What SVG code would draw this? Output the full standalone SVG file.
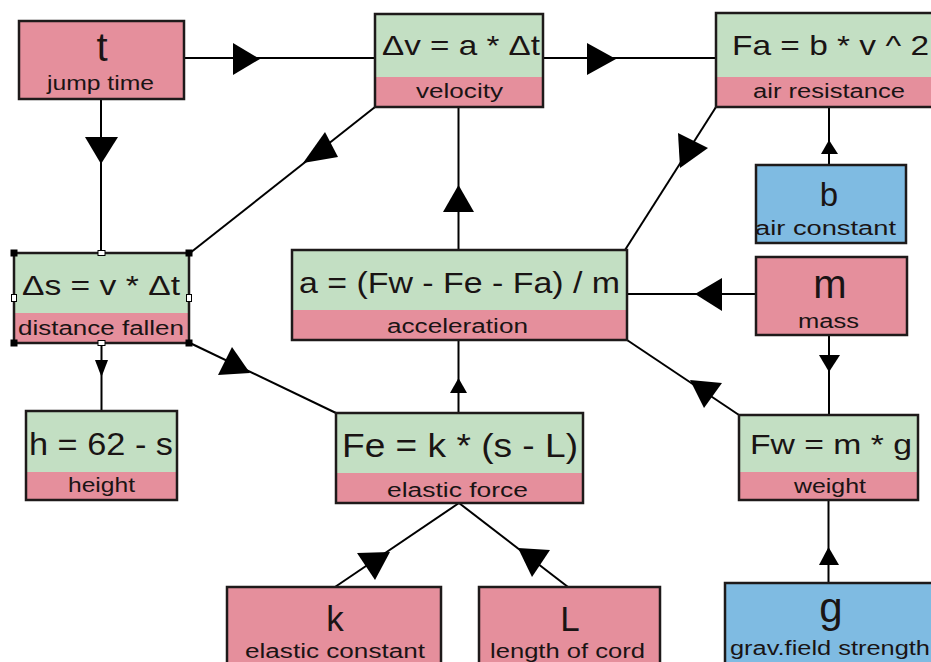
<svg xmlns="http://www.w3.org/2000/svg" width="931" height="662" viewBox="0 0 931 662">
<style>
.bx{fill:none;stroke:#1e1a1a;stroke-width:2.5}
.pk{fill:#e58f9c}
.gr{fill:#c3dfc3}
.bl{fill:#7fbbe2}
.ln{stroke:#000;stroke-width:2;fill:none}
.ah{fill:#000}
text{font-family:"Liberation Sans",Arial,sans-serif;fill:#1a1414}
.f{font-size:28px}
.s{font-size:20px}
.v{text-anchor:middle}
.hb{fill:#000}
.hw{fill:#fff;stroke:#000;stroke-width:1}
</style>
<rect width="931" height="662" fill="#fff"/>
<g id="connectors">
<line class="ln" x1="184" y1="58" x2="375" y2="58"/>
<polygon class="ah" points="233,43 233,75 260,59"/>
<line class="ln" x1="101" y1="99" x2="101" y2="253"/>
<polygon class="ah" points="85,137 118,137 101,164"/>
<line class="ln" x1="375" y1="107" x2="190" y2="253"/>
<polygon class="ah" points="325,132 338,157 303,163"/>
<line class="ln" x1="543" y1="58" x2="716" y2="58"/>
<polygon class="ah" points="587,43 587,75 616,59"/>
<line class="ln" x1="458.5" y1="250" x2="458.5" y2="107"/>
<polygon class="ah" points="443,212 474,212 458.5,185"/>
<line class="ln" x1="716" y1="107" x2="625" y2="250"/>
<polygon class="ah" points="678,133 708,148 680,168"/>
<line class="ln" x1="829" y1="165" x2="829" y2="107"/>
<polygon class="ah" points="821,154 838,154 829,140"/>
<line class="ln" x1="756" y1="294" x2="627" y2="294"/>
<polygon class="ah" points="722,278 722,311 695,294"/>
<line class="ln" x1="829" y1="335" x2="829" y2="415"/>
<polygon class="ah" points="819,355 840,355 829,372"/>
<line class="ln" x1="739" y1="415" x2="627" y2="340"/>
<polygon class="ah" points="690,380 722,383 704,408"/>
<line class="ln" x1="101.5" y1="343" x2="101.5" y2="411"/>
<polygon class="ah" points="95,360 108,360 101.5,377"/>
<line class="ln" x1="190" y1="343" x2="336" y2="413"/>
<polygon class="ah" points="232,347 218,375 250,373"/>
<line class="ln" x1="458.5" y1="413" x2="458.5" y2="340"/>
<polygon class="ah" points="458.5,378 450,393 467,393"/>
<line class="ln" x1="335" y1="587" x2="459" y2="503"/>
<polygon class="ah" points="357,553 390,552 375,580"/>
<line class="ln" x1="459" y1="503" x2="568" y2="587"/>
<polygon class="ah" points="518,548 550,550 532,577"/>
<line class="ln" x1="828.5" y1="583" x2="828.5" y2="500"/>
<polygon class="ah" points="819,565 839,565 828.5,547"/>
</g>
<g id="node-t">
<rect class="pk" x="19" y="21" width="165" height="78"/>
<rect class="bx" x="19" y="21" width="165" height="78"/>
<text class="v" x="102" y="61" font-size="40">t</text>
<text class="s" x="47" y="90" textLength="107" lengthAdjust="spacingAndGlyphs">jump time</text>
</g>
<g id="node-velocity">
<rect class="gr" x="375" y="14" width="168" height="63"/>
<rect class="pk" x="375" y="77" width="168" height="30"/>
<rect class="bx" x="375" y="14" width="168" height="93"/>
<text class="f" x="382" y="55" textLength="158" lengthAdjust="spacingAndGlyphs">Δv = a * Δt</text>
<text class="s" x="416" y="98" textLength="87" lengthAdjust="spacingAndGlyphs">velocity</text>
</g>
<g id="node-air-resistance">
<rect class="gr" x="716" y="13" width="230" height="64"/>
<rect class="pk" x="716" y="77" width="230" height="30"/>
<rect class="bx" x="716" y="13" width="230" height="94"/>
<text class="f" x="732" y="55" textLength="197" lengthAdjust="spacingAndGlyphs">Fa = b * v ^ 2</text>
<text class="s" x="753" y="98" textLength="152" lengthAdjust="spacingAndGlyphs">air resistance</text>
</g>
<g id="node-b">
<rect class="bl" x="756" y="165" width="150" height="78"/>
<rect class="bx" x="756" y="165" width="150" height="78"/>
<text class="v" x="829" y="206" font-size="33">b</text>
<text class="s" x="755" y="235" textLength="141" lengthAdjust="spacingAndGlyphs">air constant</text>
</g>
<g id="node-distance">
<rect class="gr" x="14" y="253" width="175" height="60"/>
<rect class="pk" x="14" y="313" width="175" height="30"/>
<rect class="bx" x="14" y="253" width="175" height="90"/>
<text x="22" y="295" font-size="27" textLength="158" lengthAdjust="spacingAndGlyphs">Δs = v * Δt</text>
<text class="s" x="18" y="335" textLength="166" lengthAdjust="spacingAndGlyphs">distance fallen</text>
<rect class="hb" x="10.5" y="249.5" width="7" height="7"/>
<rect class="hb" x="185.5" y="249.5" width="7" height="7"/>
<rect class="hb" x="10.5" y="339.5" width="7" height="7"/>
<rect class="hb" x="185.5" y="339.5" width="7" height="7"/>
<rect class="hw" x="98" y="250.5" width="7" height="5"/>
<rect class="hw" x="98" y="340.5" width="7" height="5"/>
<rect class="hw" x="11.5" y="294.5" width="5" height="7"/>
<rect class="hw" x="186.5" y="294.5" width="5" height="7"/>
</g>
<g id="node-acceleration">
<rect class="gr" x="292" y="250" width="335" height="60"/>
<rect class="pk" x="292" y="310" width="335" height="30"/>
<rect class="bx" x="292" y="250" width="335" height="90"/>
<text x="299" y="293" font-size="29" textLength="321" lengthAdjust="spacingAndGlyphs">a = (Fw - Fe - Fa) / m</text>
<text class="s" x="387" y="333" textLength="141" lengthAdjust="spacingAndGlyphs">acceleration</text>
</g>
<g id="node-m">
<rect class="pk" x="756" y="257" width="151" height="78"/>
<rect class="bx" x="756" y="257" width="151" height="78"/>
<text class="v" x="830" y="298" font-size="40">m</text>
<text class="s" x="798" y="328" textLength="61" lengthAdjust="spacingAndGlyphs">mass</text>
</g>
<g id="node-height">
<rect class="gr" x="26" y="411" width="151" height="61"/>
<rect class="pk" x="26" y="472" width="151" height="28"/>
<rect class="bx" x="26" y="411" width="151" height="89"/>
<text x="29" y="455" font-size="31" textLength="144" lengthAdjust="spacingAndGlyphs">h = 62 - s</text>
<text class="s" x="68" y="492" textLength="67" lengthAdjust="spacingAndGlyphs">height</text>
</g>
<g id="node-elastic-force">
<rect class="gr" x="336" y="413" width="247" height="60"/>
<rect class="pk" x="336" y="473" width="247" height="30"/>
<rect class="bx" x="336" y="413" width="247" height="90"/>
<text x="342" y="457" font-size="34" textLength="236" lengthAdjust="spacingAndGlyphs">Fe = k * (s - L)</text>
<text class="s" x="387" y="497" textLength="141" lengthAdjust="spacingAndGlyphs">elastic force</text>
</g>
<g id="node-weight">
<rect class="gr" x="739" y="415" width="179" height="57"/>
<rect class="pk" x="739" y="472" width="179" height="28"/>
<rect class="bx" x="739" y="415" width="179" height="85"/>
<text class="f" x="750" y="454" textLength="162" lengthAdjust="spacingAndGlyphs">Fw = m * g</text>
<text class="s" x="794" y="493" textLength="72" lengthAdjust="spacingAndGlyphs">weight</text>
</g>
<g id="node-k">
<rect class="pk" x="227" y="587" width="214" height="90"/>
<rect class="bx" x="227" y="587" width="214" height="90"/>
<text class="v" x="335" y="631" font-size="35">k</text>
<text class="s" x="245" y="658" textLength="180" lengthAdjust="spacingAndGlyphs">elastic constant</text>
</g>
<g id="node-L">
<rect class="pk" x="479" y="587" width="181" height="90"/>
<rect class="bx" x="479" y="587" width="181" height="90"/>
<text class="v" x="570" y="631" font-size="35">L</text>
<text class="s" x="490" y="658" textLength="155" lengthAdjust="spacingAndGlyphs">length of cord</text>
</g>
<g id="node-g">
<rect class="bl" x="725" y="583" width="210" height="90"/>
<rect class="bx" x="725" y="583" width="210" height="90"/>
<text class="v" x="831" y="622" font-size="42">g</text>
<text class="s" x="730" y="655" textLength="200" lengthAdjust="spacingAndGlyphs">grav.field strength</text>
</g>
</svg>
